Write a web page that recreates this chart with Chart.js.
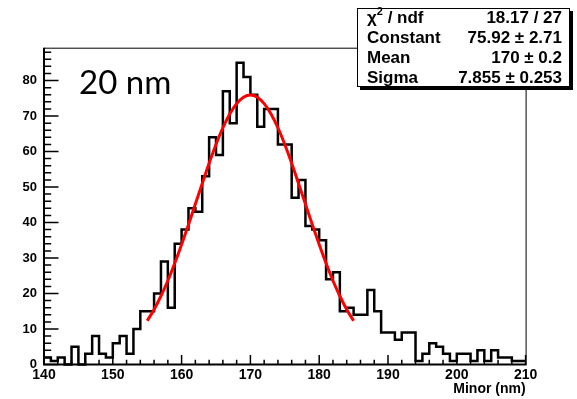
<!DOCTYPE html>
<html><head><meta charset="utf-8">
<script src="https://cdn.jsdelivr.net/npm/chart.js@4/dist/chart.umd.min.js"></script>
<style>html,body{margin:0;padding:0;background:#fff;}canvas{display:block;}</style>
</head><body>
<canvas id="c" width="577" height="399"></canvas>
<script>
// ---- data ----
const binLow = [140,141,142,143,144,145,146,147,148,149,150,151,152,153,154,155,156,157,158,159,
                160,161,162,163,164,165,166,167,168,169,170,171,172,173,174,175,176,177,178,179,
                180,181,182,183,184,185,186,187,188,189,190,191,192,193,194,195,196,197,198,199,
                200,201,202,203,204,205,206,207,208,209];
const binHigh = 210;
const counts = [2,1,2,0,5,0,3,8,3,2,6,8,3,10,15,15,20,29,16,34,
                38,44,43,53,64,59,77,68,85,81,76,67,72,72,62,62,47,52,39,38,
                35,24,26,15,16,14,14,21,15,9,9,7,9,9,1,3,6,5,3,1,
                3,3,1,4,1,4,2,2,1,1];
const fitX = [155,156,157,158,159,160,161,162,163,164,165,166,167,168,169,170,
              171,172,173,174,175,176,177,178,179,180,181,182,183,184,185];
const fitY = [12.3,15.5,19.3,23.6,28.5,33.8,39.4,45.2,51.0,56.7,62.0,66.7,70.6,73.5,75.3,75.9,
              75.3,73.5,70.6,66.7,62.0,56.7,51.0,45.2,39.4,33.8,28.5,23.6,19.3,15.5,12.3];
const xTicks = [140,150,160,170,180,190,200,210];
const yTicks = [0,10,20,30,40,50,60,70,80];
const statLabels = ["χ2 / ndf","Constant","Mean","Sigma"];
const statValues = ["18.17 / 27","75.92 ± 2.71","170 ± 0.2","7.855 ± 0.253"];
const xTitle = "Minor (nm)";
const panelLabel = "20 nm";

const histPts = binLow.map((x,i)=>({x:x,y:counts[i]}));
histPts.push({x:binHigh,y:counts[counts.length-1]});
const fitPts = fitX.map((x,i)=>({x:x,y:fitY[i]}));

const rootDeco = {
  id:'rootDeco',
  beforeDatasetsDraw(chart){
    const {ctx, chartArea:a, scales:{x,y}} = chart;
    ctx.save();
    ctx.strokeStyle='#000';
    ctx.lineWidth=1;
    ctx.beginPath();
    ctx.moveTo(a.left, a.top+0.5); ctx.lineTo(a.right+0.5, a.top+0.5); ctx.lineTo(a.right+0.5, a.bottom);
    ctx.stroke();
    ctx.lineWidth=1.5;
    ctx.beginPath();
    for(let v=140; v<=210; v+=2){
      const px=x.getPixelForValue(v);
      const len = (v%10===0)?9.5:4.8;
      ctx.moveTo(px,a.bottom); ctx.lineTo(px,a.bottom-len);
    }
    for(let v=0; v<=88; v+=2){
      const py=y.getPixelForValue(v);
      const len = (v%10===0)?14.5:7.2;
      ctx.moveTo(a.left,py); ctx.lineTo(a.left+len,py);
    }
    ctx.stroke();
    ctx.lineWidth=2;
    ctx.beginPath();
    ctx.moveTo(a.left, a.top); ctx.lineTo(a.left, a.bottom); ctx.lineTo(a.right+1, a.bottom);
    ctx.stroke();
    ctx.restore();
  },
  afterDraw(chart){
    const ctx = chart.ctx;
    ctx.save();
    ctx.fillStyle='#000';
    ctx.font='33px Lato';
    ctx.textBaseline='alphabetic';
    ctx.textAlign='left';
    ctx.fillText(panelLabel, 79, 94);
    const bx=357, by=8, bw=213, bh=79;
    ctx.fillStyle='#000';
    ctx.fillRect(bx+3, by+3, bw, bh);
    ctx.fillStyle='#fff';
    ctx.fillRect(bx, by, bw, bh);
    ctx.strokeStyle='#000'; ctx.lineWidth=1;
    ctx.strokeRect(bx+0.5, by+0.5, bw-1, bh-1);
    ctx.fillStyle='#000';
    const rows=[18,38.5,58,78];
    const F='bold 17px "Liberation Sans"';
    ctx.textBaseline='middle';
    statLabels.forEach((lab,i)=>{
      ctx.textAlign='left';
      if(i===0){
        ctx.font=F;
        ctx.fillText('χ', 367, rows[i]);
        const w=ctx.measureText('χ').width;
        ctx.font='bold 11px "Liberation Sans"';
        ctx.fillText('2', 367+w, rows[i]-6);
        const w2=ctx.measureText('2').width;
        ctx.font=F;
        ctx.fillText(' / ndf', 367+w+w2, rows[i]);
      } else {
        ctx.font=F;
        ctx.fillText(lab, 367, rows[i]);
      }
      ctx.textAlign='right';
      ctx.font=F;
      ctx.fillText(statValues[i], 562, rows[i]);
    });
    ctx.restore();
  }
};

new Chart(document.getElementById('c'), {
  type:'line',
  data:{datasets:[
    {data:fitPts, borderColor:'#ff0000', borderWidth:3, pointRadius:0, cubicInterpolationMode:'monotone', fill:false, order:0},
    {data:histPts, borderColor:'#000', borderWidth:2.5, pointRadius:0, stepped:'before', fill:false, order:1, clip:false}
  ]},
  options:{
    responsive:false, animation:false, devicePixelRatio:1,
    layout:{padding:{left:0, top:47.7, right:51.4, bottom:0}},
    plugins:{legend:{display:false}, tooltip:{enabled:false}},
    scales:{
      x:{type:'linear', min:140, max:210,
         afterBuildTicks(s){ s.ticks = xTicks.map(v=>({value:v})); },
         afterFit(s){ s.height = 34.5; },
         grid:{display:false, drawTicks:false}, border:{display:false},
         ticks:{font:{family:'Liberation Sans', weight:'bold', size:14}, color:'#000', padding:2, maxRotation:0, autoSkip:false},
         title:{display:true, text:xTitle, align:'end', color:'#000', font:{family:'Liberation Sans', weight:'bold', size:14}, padding:{top:0,bottom:1}}
      },
      y:{type:'linear', min:0, max:89.25,
         afterBuildTicks(s){ s.ticks = yTicks.map(v=>({value:v})); },
         afterFit(s){ s.width = 44; },
         grid:{display:false, drawTicks:false}, border:{display:false},
         ticks:{font:{family:'Liberation Sans', weight:'bold', size:13}, color:'#000', padding:7, autoSkip:false}
      }
    }
  },
  plugins:[rootDeco]
});
</script>
</body></html>
